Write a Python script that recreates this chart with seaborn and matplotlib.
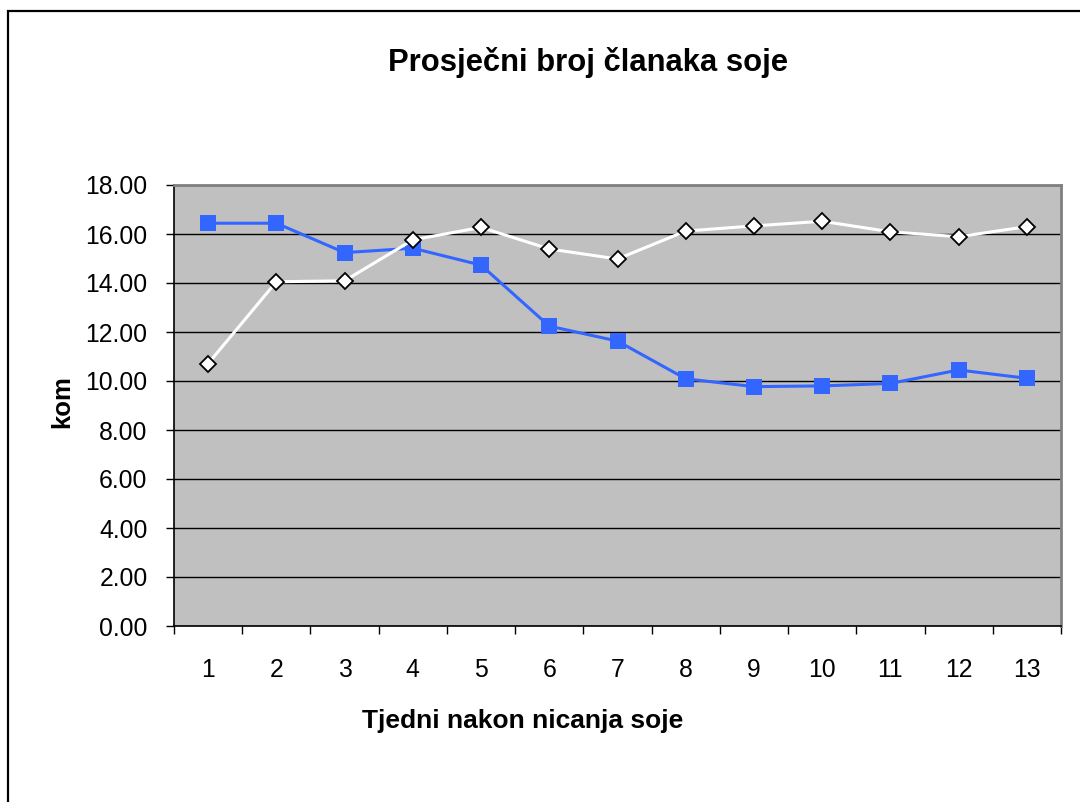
import pandas as pd
import numpy as np
import matplotlib
matplotlib.use("Agg")
import matplotlib.pyplot as plt
from matplotlib.ticker import FixedLocator, FormatStrFormatter
import seaborn as sns

plt.rcParams['font.family'] = ['Liberation Sans', 'DejaVu Sans']

# Weeks after emergence and the two measured series
weeks = list(range(1, 14))
blue_series = [16.44, 16.44, 15.24, 15.42, 14.73, 12.24, 11.63, 10.09, 9.77, 9.80, 9.90, 10.45, 10.11]
white_series = [10.71, 14.05, 14.09, 15.76, 16.27, 15.39, 14.98, 16.12, 16.33, 16.52, 16.09, 15.89, 16.30]
y_ticks = [0, 2, 4, 6, 8, 10, 12, 14, 16, 18]

df = pd.DataFrame({'tjedan': weeks, 'a': blue_series, 'b': white_series})

fig = plt.figure(figsize=(10.8, 8.02), dpi=100)
ax = fig.add_axes([174 / 1080, 1 - 626 / 802, (1061 - 174) / 1080, (626 - 185) / 802])
ax.set_facecolor('#C0C0C0')

# gridlines first so lines sit on top
ax.set_axisbelow(True)
ax.yaxis.grid(True, color='black', linewidth=1)
ax.xaxis.grid(False)

sns.lineplot(data=df, x='tjedan', y='a', ax=ax, color='#3366FF', linewidth=2.2,
             marker='s', markersize=11.5, markeredgecolor='#3366FF', markeredgewidth=0, zorder=3)
sns.lineplot(data=df, x='tjedan', y='b', ax=ax, color='white', linewidth=2.2,
             marker='D', markersize=8, markerfacecolor='white', markeredgecolor='black',
             markeredgewidth=1.3, zorder=4)

ax.set_xlim(0.5, 13.5)
ax.set_ylim(0, 18)

ax.yaxis.set_major_locator(FixedLocator(y_ticks))
ax.yaxis.set_major_formatter(FormatStrFormatter('%.2f'))
ax.tick_params(axis='y', direction='out', length=6, width=1, color='black', pad=13, labelsize=17.8)

ax.set_xticks(weeks)
ax.set_xticklabels([str(w) for w in weeks])
ax.xaxis.set_minor_locator(FixedLocator(np.arange(0.5, 14, 1)))
ax.tick_params(axis='x', which='major', length=0, pad=23, labelsize=17.8)
ax.tick_params(axis='x', which='minor', direction='out', length=6, width=1, color='black')

for side in ['left', 'bottom']:
    ax.spines[side].set_color('black')
    ax.spines[side].set_linewidth(1.2)
for side in ['top', 'right']:
    ax.spines[side].set_color('#808080')
    ax.spines[side].set_linewidth(2)

ax.set_xlabel('')
ax.set_ylabel('')

fig.text(587.5 / 1080, 1 - 62.5 / 802, 'Prosječni broj članaka soje',
         ha='center', va='center', fontsize=22.3, fontweight='bold')
fig.text(523 / 1080, 1 - 721 / 802, 'Tjedni nakon nicanja soje',
         ha='center', va='center', fontsize=19, fontweight='bold')
fig.text(62 / 1080, 1 - 402 / 802, 'kom', rotation=90,
         ha='center', va='center', fontsize=18.5, fontweight='bold')

# outer chart border (right and bottom fall outside the picture)
border = plt.Rectangle((7.5 / 1080, -0.1), 1.2, 1.1 - 10.5 / 802,
                       transform=fig.transFigure, fill=False,
                       edgecolor='black', linewidth=1.6)
fig.patches.append(border)

fig.savefig('out.png', dpi=100, facecolor='white')
